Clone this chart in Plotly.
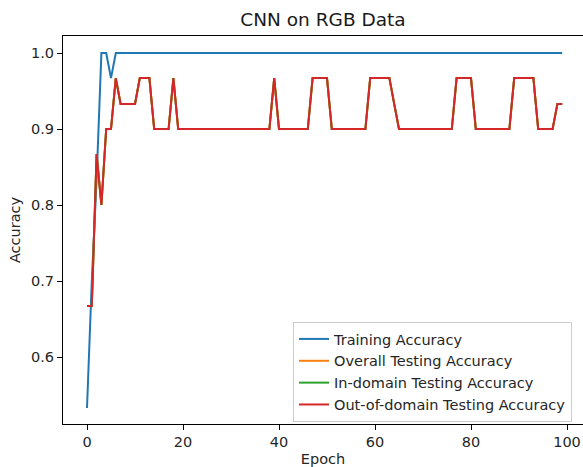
import plotly.graph_objects as go

epochs = list(range(100))

train_acc = [0.533, 0.7, 0.833, 1.0, 1.0, 0.967] + [1.0] * 94

test_acc = ([0.667, 0.667, 0.867, 0.8, 0.9, 0.9, 0.967, 0.933, 0.933, 0.933, 0.933,
             0.967, 0.967, 0.967, 0.9, 0.9, 0.9, 0.9, 0.967]
            + [0.9] * 20          # 19-38
            + [0.967]             # 39
            + [0.9] * 7           # 40-46
            + [0.967] * 4         # 47-50
            + [0.9] * 8           # 51-58
            + [0.967] * 5         # 59-63
            + [0.933]             # 64
            + [0.9] * 12          # 65-76
            + [0.967] * 4         # 77-80
            + [0.9] * 8           # 81-88
            + [0.967] * 5         # 89-93
            + [0.9] * 4           # 94-97
            + [0.933] * 2)        # 98-99

overall_acc = test_acc
in_domain_acc = test_acc
out_domain_acc = test_acc

series_names = ["Training Accuracy", "Overall Testing Accuracy",
                "In-domain Testing Accuracy", "Out-of-domain Testing Accuracy"]
series_values = [train_acc, overall_acc, in_domain_acc, out_domain_acc]
colors = ["#1f77b4", "#ff7f0e", "#2ca02c", "#d62728"]

x_ticks = [0, 20, 40, 60, 80, 100]
y_ticks = [0.6, 0.7, 0.8, 0.9, 1.0]

fig = go.Figure()
for name, vals, c in zip(series_names, series_values, colors):
    fig.add_trace(go.Scatter(x=epochs, y=vals, mode="lines", name=name,
                             line=dict(color=c, width=2)))

font = "DejaVu Sans, Liberation Sans, sans-serif"
fig.update_layout(
    width=583, height=467,
    margin=dict(l=63, r=0, t=36, b=43),
    paper_bgcolor="white", plot_bgcolor="white",
    font=dict(family=font, size=14.5, color="#262626"),
    title=dict(text="CNN on RGB Data", x=(323) / 583, xanchor="center",
               y=1 - 20 / 467, yanchor="middle", font=dict(size=18.5, color="#1a1a1a")),
    showlegend=True,
    legend=dict(x=(293 - 63) / 520, xanchor="left", y=(424 - 322) / 388, yanchor="top",
                bgcolor="rgba(255,255,255,0.8)", bordercolor="#cccccc", borderwidth=1,
                font=dict(size=14.5, color="#262626"), tracegroupgap=0),
    xaxis=dict(range=[-5, -5 + 520 / 4.8], tickvals=x_ticks, showgrid=False, zeroline=False,
               showline=True, linecolor="black", linewidth=1, mirror=True,
               ticks="outside", ticklen=5, tickcolor="black", automargin=False,
               title=dict(text="Epoch", standoff=6, font=dict(size=14.5))),
    yaxis=dict(range=[0.6 - 67 / 760, 1.0 + 17 / 760], tickvals=y_ticks,
               tickformat=".1f", showgrid=False, zeroline=False,
               showline=True, linecolor="black", linewidth=1, mirror=False,
               ticks="outside", ticklen=5, tickcolor="black", automargin=False,
               title=dict(text="Accuracy", standoff=6, font=dict(size=14.5))),
)

fig.write_html("out.html", config={"displayModeBar": False},
               post_script="document.body.style.margin='0';")
